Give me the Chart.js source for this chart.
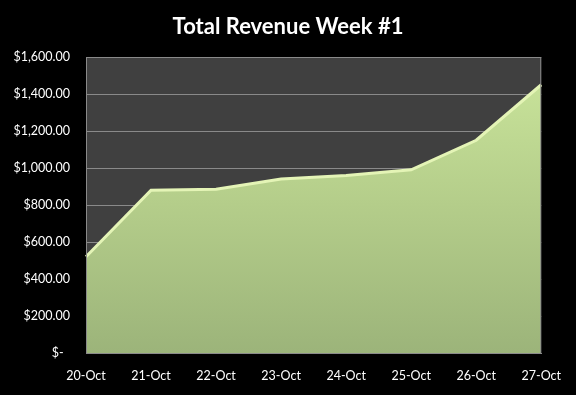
<!DOCTYPE html>
<html>
<head>
<meta charset="utf-8">
<script src="https://cdn.jsdelivr.net/npm/chart.js@4"></script>
<style>
  html, body { margin: 0; padding: 0; background: #000; }
  #wrap { width: 576px; height: 395px; }
</style>
</head>
<body>
<div id="wrap"><canvas id="revenueChart" width="576" height="395"></canvas></div>
<script>
// Revenue data
const days = ['20-Oct','21-Oct','22-Oct','23-Oct','24-Oct','25-Oct','26-Oct','27-Oct'];
const revenue = [520, 880, 885, 940, 960, 990, 1150, 1450];
const yTicks = [0, 200, 400, 600, 800, 1000, 1200, 1400, 1600];
const chartTitle = 'Total Revenue Week #1';

function money(v) {
  if (v === 0) return '$-  ';
  return '$' + v.toLocaleString('en-US', { minimumFractionDigits: 2, maximumFractionDigits: 2 });
}

// dark plot background, frame, and a title centred on the whole canvas
const plotBg = {
  id: 'plotBg',
  beforeDraw(chart) {
    const { ctx, chartArea: a } = chart;
    ctx.save();
    ctx.fillStyle = '#404040';
    ctx.fillRect(a.left, a.top, a.right - a.left, a.bottom - a.top);
    ctx.restore();
  },
  afterDraw(chart) {
    const { ctx, chartArea: a } = chart;
    ctx.save();
    ctx.strokeStyle = '#8a8a8a';
    ctx.lineWidth = 1;
    ctx.strokeRect(a.left + 0.5, a.top + 0.5, a.right - a.left - 1, a.bottom - a.top);
    ctx.fillStyle = '#fff';
    ctx.font = 'bold 22px Lato';
    ctx.textAlign = 'center';
    ctx.textBaseline = 'middle';
    ctx.fillText(chartTitle, chart.width / 2, 27);
    ctx.restore();
  }
};

function fillGradient(context) {
  const { ctx, chartArea } = context.chart;
  if (!chartArea) return '#b5cf8c';
  const g = ctx.createLinearGradient(0, chartArea.top, 0, chartArea.bottom);
  g.addColorStop(0, '#cbe69c');
  g.addColorStop(0.5, '#b4cd8a');
  g.addColorStop(1, '#9cb47a');
  return g;
}

const rc = document.getElementById('revenueChart');
new Chart(rc, {
  type: 'line',
  data: {
    labels: days,
    datasets: [{
      label: 'Revenue', data: revenue,
      fill: 'origin', backgroundColor: fillGradient,
      borderColor: '#e4f4b6', borderWidth: 3, tension: 0, pointRadius: 0
    }]
  },
  options: {
    responsive: false, animation: false,
    layout: { padding: { left: 0, right: 31, top: 57, bottom: 0 } },
    plugins: {
      legend: { display: false },
      tooltip: { enabled: false },
      title: { display: false }
    },
    scales: {
      x: {
        offset: false,
        afterFit(scale) { scale.height = 42; },
        grid: { display: false, drawTicks: false },
        border: { color: '#8a8a8a' },
        ticks: { color: '#fff', font: { family: 'Lato', size: 12.5 }, padding: 15, maxRotation: 0, autoSkip: false }
      },
      y: {
        min: 0, max: 1600,
        afterBuildTicks(scale) { scale.ticks = yTicks.map(v => ({ value: v })); },
        afterFit(scale) { scale.width = 86; },
        grid: { color: '#8a8a8a', drawTicks: false },
        border: { color: '#8a8a8a' },
        ticks: { color: '#fff', font: { family: 'Lato', size: 12.5 }, padding: 16, callback: v => money(v) }
      }
    }
  },
  plugins: [plotBg]
});
</script>
</body>
</html>
